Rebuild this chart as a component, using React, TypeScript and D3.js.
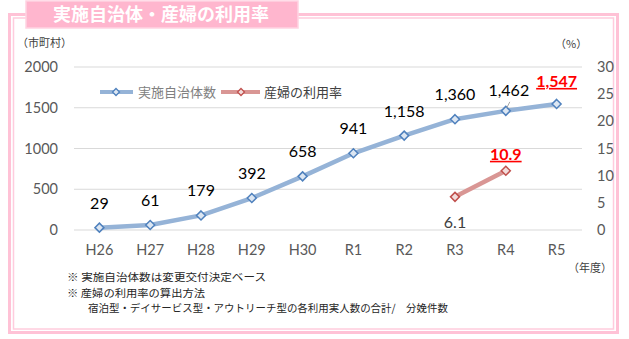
import React from "react";
import * as d3 from "d3";

const categories = ["H26", "H27", "H28", "H29", "H30", "R1", "R2", "R3", "R4", "R5"];
const municipalities = [29, 61, 179, 392, 658, 941, 1158, 1360, 1462, 1547];
const municipalityLabels = ["29", "61", "179", "392", "658", "941", "1,158", "1,360", "1,462", "1,547"];
const usageCategories = ["R3", "R4"];
const usageRate = [6.1, 10.9];
const usageLabels = ["6.1", "10.9"];
const leftTicks = [0, 500, 1000, 1500, 2000];
const rightTicks = [0, 5, 10, 15, 20, 25, 30];
const title = "実施自治体・産婦の利用率";
const legendNames = ["実施自治体数", "産婦の利用率"];
const notes = [
  "※ 実施自治体数は変更交付決定ベース",
  "※ 産婦の利用率の算出方法",
  "宿泊型・デイサービス型・アウトリーチ型の各利用実人数の合計/　分娩件数",
];

const W = 629;
const H = 339;
const JP = "'Noto Sans CJK JP', 'Noto Sans', sans-serif";
const NUM = "Lato, 'Liberation Sans', sans-serif";

const diamond = (cx: number, cy: number, r: number) =>
  `M${cx},${cy - r}L${cx + r},${cy}L${cx},${cy + r}L${cx - r},${cy}Z`;

export default function App() {
  const x = d3.scaleBand<string>().domain(categories).range([74, 582]);
  const cx = (c: string) => (x(c) as number) + x.bandwidth() / 2;
  const yL = d3.scaleLinear().domain([0, 2000]).range([230, 67]);
  const yR = d3.scaleLinear().domain([0, 30]).range([230, 67]);

  const lineL = d3
    .line<number>()
    .x((_, i) => cx(categories[i]))
    .y((d) => yL(d));
  const lineR = d3
    .line<number>()
    .x((_, i) => cx(usageCategories[i]))
    .y((d) => yR(d));

  const pink = "#FFC2D6";

  return (
    <svg width={W} height={H} style={{ position: "absolute", left: 0, top: 0, background: "#fff" }}>
      {/* frame */}
      <rect x={9.5} y={14.5} width={608} height={318} fill="none" stroke={pink} strokeWidth={3} />
      <rect x={13.5} y={18} width={600} height={311} fill="none" stroke="#FFCCDD" strokeWidth={1.5} />
      {/* title box */}
      <rect x={26} y={1} width={272} height={27} fill="#FFB6CE" stroke="#FFD3E2" strokeWidth={1.5} />
      <text x={161} y={21} textAnchor="middle" fill="#fff" fontFamily={JP} fontWeight={700} fontSize={18}>
        {title}
      </text>

      {/* axis unit labels */}
      <text x={17} y={47} fontFamily={JP} fontSize={11} fill="#404040">（市町村）</text>
      <text x={555} y={48} fontFamily={JP} fontSize={11} fill="#404040">（%）</text>
      <text x={568} y={272} fontFamily={JP} fontSize={11} fill="#404040">（年度）</text>

      {/* gridlines */}
      {leftTicks.map((t) => (
        <line key={t} x1={74} x2={582} y1={yL(t)} y2={yL(t)} stroke="#D9D9D9" strokeWidth={1} />
      ))}
      {leftTicks.map((t) => (
        <text key={"l" + t} x={58} y={yL(t) + 5} textAnchor="end" fontFamily={NUM} fontSize={14.5} fill="#595959">
          {t}
        </text>
      ))}
      {rightTicks.map((t) => (
        <text key={"r" + t} x={597} y={yR(t) + 5} textAnchor="start" fontFamily={NUM} fontSize={14.5} fill="#595959">
          {t}
        </text>
      ))}
      {categories.map((c) => (
        <text key={c} x={cx(c)} y={255} textAnchor="middle" fontFamily={NUM} fontSize={14.5} fill="#595959">
          {c}
        </text>
      ))}

      {/* legend */}
      <line x1={100} x2={133} y1={92} y2={92} stroke="#95B3D7" strokeWidth={4} />
      <path d={diamond(116, 92, 3.5)} fill="#DCE6F2" stroke="#4F81BD" strokeWidth={1.3} />
      <text x={138} y={96.5} fontFamily={JP} fontSize={13} fill="#808080">{legendNames[0]}</text>
      <line x1={221} x2={260} y1={92} y2={92} stroke="#D99694" strokeWidth={4} />
      <path d={diamond(241, 92, 3.5)} fill="#F2DCDB" stroke="#C0504D" strokeWidth={1.3} />
      <text x={264} y={96.5} fontFamily={JP} fontSize={13} fill="#404040">{legendNames[1]}</text>

      {/* municipalities line */}
      <path d={lineL(municipalities) || ""} fill="none" stroke="#95B3D7" strokeWidth={4.5} strokeLinejoin="round" />
      {municipalities.map((v, i) => (
        <path key={i} d={diamond(cx(categories[i]), yL(v), 4.5)} fill="#DCE6F2" stroke="#4F81BD" strokeWidth={1.5} />
      ))}

      {/* usage rate line */}
      <path d={lineR(usageRate) || ""} fill="none" stroke="#D99694" strokeWidth={4.5} />
      {usageRate.map((v, i) => (
        <path key={i} d={diamond(cx(usageCategories[i]), yR(v), 4.5)} fill="#F2DCDB" stroke="#C0504D" strokeWidth={1.5} />
      ))}

      {/* municipality labels */}
      {municipalities.map((v, i) => {
        const px = cx(categories[i]);
        const py = yL(v);
        const last = i === municipalities.length - 1;
        if (i === 8) {
          return (
            <g key={i}>
              <line x1={px + 1} y1={py - 3} x2={px + 4} y2={py - 9} stroke="#A6A6A6" strokeWidth={1} />
              <text x={px + 3} y={py - 15} textAnchor="middle" fontFamily={NUM} fontSize={16} fill="#000">
                {municipalityLabels[i]}
              </text>
            </g>
          );
        }
        if (last) {
          return (
            <text key={i} x={px} y={py - 17} textAnchor="middle" fontFamily={NUM} fontSize={16} fontWeight={700}
              fill="#FF0000" textDecoration="underline">
              {municipalityLabels[i]}
            </text>
          );
        }
        return (
          <text key={i} x={px} y={py - 19} textAnchor="middle" fontFamily={NUM} fontSize={16} fill="#000">
            {municipalityLabels[i]}
          </text>
        );
      })}

      {/* usage labels */}
      <text x={cx(usageCategories[0])} y={yR(usageRate[0]) + 31} textAnchor="middle" fontFamily={NUM} fontSize={16} fill="#404040">
        {usageLabels[0]}
      </text>
      <text x={cx(usageCategories[1])} y={yR(usageRate[1]) - 11} textAnchor="middle" fontFamily={NUM} fontSize={16}
        fontWeight={700} fill="#FF0000" textDecoration="underline">
        {usageLabels[1]}
      </text>

      {/* notes */}
      <text x={67} y={281} fontFamily={JP} fontSize={10.5} fill="#262626" textLength={199} lengthAdjust="spacingAndGlyphs">
        {notes[0]}
      </text>
      <text x={67} y={296.5} fontFamily={JP} fontSize={10.5} fill="#262626" textLength={138} lengthAdjust="spacingAndGlyphs">
        {notes[1]}
      </text>
      <text x={88} y={312} fontFamily={JP} fontSize={10.5} fill="#262626" textLength={360} lengthAdjust="spacingAndGlyphs">
        {notes[2]}
      </text>
    </svg>
  );
}
